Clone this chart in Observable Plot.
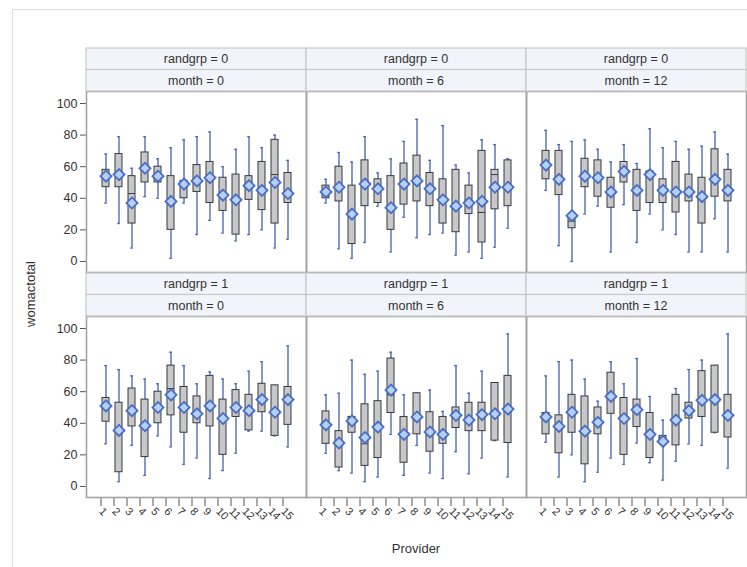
<!DOCTYPE html>
<html>
<head>
<meta charset="utf-8">
<script src="https://cdn.jsdelivr.net/npm/d3@7"></script>
<script src="https://cdn.jsdelivr.net/npm/@observablehq/plot@0.6"></script>
<style>
  html, body { margin: 0; padding: 0; background: #fff; }
  #chart { position: relative; width: 747px; height: 567px; overflow: hidden; }
</style>
</head>
<body>
<div id="chart"></div>
<script>
// ---- data ----
const providers = ["1","2","3","4","5","6","7","8","9","10","11","12","13","14","15"];
const months = [0, 6, 12];
const randgrps = [0, 1];
const yTicks = [0, 20, 40, 60, 80, 100];
// panel order: [randgrp, month]
const panels = [[0, 0], [0, 6], [0, 12], [1, 0], [1, 6], [1, 12]];

const lo = [
  [37, 24, 8.5, 41, 40, 2, 37, 17, 26, 18, 13, 17, 20, 8.5, 14],
  [37, 8, 2, 12, 35, 6, 28, 15, 17, 18, 4, 6, 2, 9, 21],
  [45, 10, 0, 30, 35, 6, 36, 12, 30, 20, 17, 6, 6, 27, 6],
  [27, 3, 26, 7, 32, 25, 14, 18, 5, 10, 21, 35, 35, 32, 25],
  [21, 10, 8.5, 3, 6, 33, 7, 26, 8.5, 5, 22, 8, 18, 29, 6],
  [28, 6, 20, 3, 9, 18, 14, 27.5, 15, 4, 16, 27, 26, 34, 11.6]
];
const q1 = [
  [47, 47, 24, 50, 50, 20, 40, 44, 37, 32, 17, 39, 32.5, 24, 37],
  [40, 38, 11, 35, 37, 20, 36, 38, 35, 24, 18.5, 30, 12, 33, 35],
  [52, 42, 21, 47, 41, 34, 50, 32, 37, 37, 31, 38, 24, 41, 38],
  [41, 9, 38, 18.6, 40, 45, 34, 40, 38, 20, 44, 35.5, 47, 32, 39],
  [27, 12, 34, 13, 18, 46.5, 15, 33, 22, 27, 37, 35, 35, 29, 27.5],
  [33, 21, 34, 14, 33, 46, 20, 37.6, 18, 28.5, 26, 43, 44, 34, 31]
];
const med = [
  [55, 56, 43, 60, 55, 38, 50, 52, 53, 42, 40, 49, 46, 55, 44],
  [44, 47, 30, 49, 46, 34, 49, 51, 46, 39, 35, 37, 31, 55, 47],
  [61, 52, 25.5, 54, 53, 44, 57, 45, 55, 45, 44, 44, 41, 52, 45],
  [51, 35.5, 48, 38.5, 50, 62, 50, 46, 51, 43, 50, 48, 55, 47, 55],
  [39, 27.5, 42, 27, 37.6, 58, 33, 44, 34.5, 33, 45, 42, 45.5, 46, 49],
  [44, 38, 47, 35, 40.6, 57, 43, 48.6, 33, 31, 42, 48, 54.5, 55, 45]
];
const q3 = [
  [58, 68, 54, 69, 60, 54, 51, 61, 63, 53, 55, 54, 63, 77, 56],
  [48, 60, 48, 64, 52, 54, 62, 67, 56, 52, 58, 48, 70, 58, 64],
  [70, 70, 27, 65, 64, 53, 63, 58, 57, 52, 63, 55, 53, 71, 58],
  [56, 53, 62, 55, 60, 76.5, 63, 57, 70, 55, 61, 58, 65, 64, 63],
  [47.5, 35, 44, 52, 54, 81, 44, 59, 47, 44, 50, 53, 53, 65.5, 70],
  [46.5, 45, 58, 57, 50, 72, 56, 55, 46.5, 32, 58, 53, 73, 76.5, 58]
];
const hi = [
  [68, 79, 59, 79, 65, 72, 77, 79, 82, 60, 71, 79, 72, 80, 64],
  [52, 69, 63, 79, 56, 65, 76, 90, 64, 86, 61, 56, 77, 74, 65],
  [83, 74, 76, 77, 71, 63, 74, 62, 84, 72, 76, 71, 73, 82, 68],
  [76.5, 74, 70, 68, 65, 85, 76.5, 65, 72.5, 68, 65, 73, 79, 64, 89],
  [58, 59, 80, 71, 73, 85, 58, 59, 61, 47.5, 76.5, 59, 73, 65.5, 96.6],
  [70, 79, 80, 68, 54, 79, 65, 81, 57, 42, 62, 74, 80, 76.5, 96.6]
];
const mean = [
  [54, 55, 37, 59, 54, 38, 49, 51, 53, 42, 39, 48, 45, 50, 43],
  [44, 47, 30, 49, 46, 34, 49, 51, 46, 39, 35, 37, 38, 47, 47],
  [61, 52, 29, 54, 53, 44, 57, 45, 55, 45, 44, 44, 41, 52, 45],
  [51, 35.5, 48, 38.5, 50, 58, 50, 46, 51, 43, 50, 48, 55, 47, 55],
  [39, 27.5, 41.5, 31, 37.6, 61, 33, 44, 34.5, 33, 45, 42, 45.5, 46, 49],
  [44, 38, 47, 35, 40.6, 57, 43, 48.6, 33, 28.5, 42, 48, 54.5, 55, 45]
];

// ---- build table ----
const rows = [];
panels.forEach(([r, m], p) => {
  providers.forEach((prov, i) => {
    rows.push({randgrp: r, month: m, provider: prov,
      lo: lo[p][i], q1: q1[p][i], med: med[p][i], q3: q3[p][i], hi: hi[p][i], mean: mean[p][i]});
  });
});

const whisker = "#4262ac";
const facet = {fx: "month", fy: "randgrp"};

const plot = Plot.plot({
  width: 747,
  height: 567,
  marginTop: 91,
  marginBottom: 70,
  marginLeft: 86,
  marginRight: 1,
  style: {fontFamily: "'Liberation Sans', Arial, sans-serif", fontSize: "12px", color: "#333", background: "transparent", overflow: "visible"},
  fx: {domain: months, paddingInner: 0, paddingOuter: 0, axis: null, label: null},
  fy: {domain: randgrps, paddingInner: 0.1956, paddingOuter: 0, axis: null, label: null},
  x: {type: "band", domain: providers, paddingInner: 0, paddingOuter: 0.5, label: null},
  y: {domain: [-7, 107.6], label: null},
  marks: [
    Plot.axisY({ticks: yTicks, tickSize: 6, tickPadding: 3, label: null, fontSize: 12.5, stroke: "#555"}),
    Plot.axisX({tickRotate: 45, tickSize: 8, tickPadding: 3, label: null, fontSize: 11, stroke: "#555", dx: -5, dy: 1}),
    Plot.ruleX(rows, {...facet, x: "provider", y1: "lo", y2: "hi", stroke: whisker, strokeWidth: 1.3}),
    Plot.tickY(rows, {...facet, x: "provider", y: "lo", stroke: whisker, strokeWidth: 1.3, insetLeft: 5.2, insetRight: 5.2}),
    Plot.tickY(rows, {...facet, x: "provider", y: "hi", stroke: whisker, strokeWidth: 1.3, insetLeft: 5.2, insetRight: 5.2}),
    Plot.barY(rows, {...facet, x: "provider", y1: "q1", y2: "q3", fill: "#c6c8cc", stroke: "#3a3a3a", strokeWidth: 1, insetLeft: 3, insetRight: 3}),
    Plot.tickY(rows, {...facet, x: "provider", y: "med", stroke: "#3a3a3a", strokeWidth: 1, insetLeft: 3, insetRight: 3}),
    Plot.dot(rows, {...facet, x: "provider", y: "mean", symbol: "diamond2", r: 5, fill: "#b6d0f4", stroke: "#4a6ec4", strokeWidth: 1.8}),
    Plot.frame({stroke: "#a4a4a4", strokeWidth: 1.6})
  ]
});

// ---- decorations positioned via the plot's facet scales ----
const svg = d3.select(plot);
const fx = plot.scale("fx");
const fy = plot.scale("fy");
const stripH = 21.5;

svg.insert("rect", ":first-child")
  .attr("x", 12.5).attr("y", 9.5).attr("width", 760).attr("height", 580)
  .attr("fill", "#fff").attr("stroke", "#dcdcdc").attr("stroke-width", 1);

const g = svg.append("g");
randgrps.forEach(r => {
  months.forEach(m => {
    const x0 = fx.apply(m), w = fx.bandwidth, y0 = fy.apply(r);
    [["randgrp = " + r, y0 - 2 * stripH], ["month = " + m, y0 - stripH]].forEach(([label, yy]) => {
      g.append("rect").attr("x", x0).attr("y", yy).attr("width", w).attr("height", stripH)
        .attr("fill", "#f1f4fa").attr("stroke", "#c9c9c9").attr("stroke-width", 1.2);
      g.append("text").attr("x", x0 + w / 2).attr("y", yy + stripH / 2).attr("dy", "0.35em")
        .attr("text-anchor", "middle").attr("fill", "#333").attr("font-size", 12.5).text(label);
    });
  });
});

const xr = plot.scale("fx").range, yr = plot.scale("fy").range;
svg.append("text")
  .attr("transform", `translate(35,${(yr[0] + yr[1]) / 2}) rotate(-90)`)
  .attr("text-anchor", "middle").attr("fill", "#333").attr("font-size", 13).text("womactotal");
svg.append("text")
  .attr("x", (xr[0] + xr[1]) / 2).attr("y", 553)
  .attr("text-anchor", "middle").attr("fill", "#333").attr("font-size", 13).text("Provider");

document.getElementById("chart").appendChild(plot);
</script>
</body>
</html>
